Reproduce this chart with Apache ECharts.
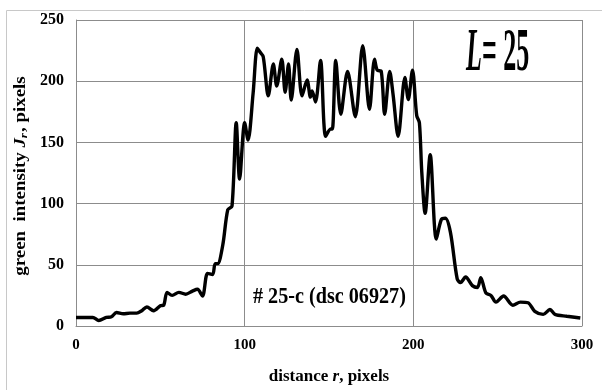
<!DOCTYPE html>
<html>
<head>
<meta charset="utf-8">
<script src="https://cdn.jsdelivr.net/npm/echarts@6/dist/echarts.min.js"></script>
<style>
  html, body { margin: 0; padding: 0; background: #fff; }
  #chart { width: 602px; height: 390px; }
</style>
</head>
<body>
<div id="chart"></div>
<script>
// distance r (pixels) and green intensity J_r
const distance = [0, 4, 8, 10, 13.5, 18, 21, 24, 28, 32, 36, 39, 42, 46, 50, 52, 54, 57, 61, 65, 69, 72, 75,
  78, 81, 82.5, 84, 87, 90, 92.5, 95, 97, 100, 102, 105, 107.5, 109, 111, 114, 117, 119, 122, 124, 126,
  127.6, 131, 134, 137, 139, 140, 142, 145, 148, 151, 152, 154, 157, 161, 165.6, 170, 174, 177, 178.6,
  181, 183, 186, 188, 191, 195, 197, 199.5, 202, 203.6, 205, 207, 210, 213.6, 216.6, 219, 222, 226, 228,
  231, 235, 238, 240, 243, 246, 249, 253.5, 259, 263.5, 268, 272, 277, 281, 284, 291, 299];
const intensity = [7, 7, 7, 7, 4.5, 7, 7.5, 11, 10, 10.5, 10.5, 12.5, 15.5, 12.5, 16.5, 17, 27.5, 25, 27.5, 26, 28.5, 30, 24.5,
  43, 42, 51, 51, 66, 95, 98, 166, 120, 166, 152, 190, 227, 224, 220, 188, 214, 196, 218, 191, 214,
  184.5, 226, 188, 201, 187, 192, 183, 217, 155, 161, 161, 217, 173, 208, 171, 229, 177, 218, 209,
  208, 173, 208, 189, 155, 203, 185, 209, 172, 166, 126, 92, 140, 71, 87, 88, 76.5, 38.5, 35.5,
  40, 33, 31.5, 39.5, 27, 25, 19.5, 24.5, 17, 19.5, 19, 12, 9.5, 13.5, 9.5, 8, 6.5];
const xTicks = { min: 0, max: 300, interval: 100 };
const yTicks = { min: 0, max: 250, interval: 50 };

const chart = echarts.init(document.getElementById('chart'));
const serif = '"Liberation Serif", "DejaVu Serif", serif';
const gridColor = '#8c8c8c';
const bold = { fill: '#000', fontFamily: serif, fontWeight: 'bold' };

chart.setOption({
  animation: false,
  textStyle: { fontFamily: serif },
  grid: { left: 76, right: 20, top: 20, bottom: 53, containLabel: false },
  xAxis: {
    type: 'value',
    min: xTicks.min, max: xTicks.max, interval: xTicks.interval,
    axisLine: { show: true, lineStyle: { color: gridColor, width: 1 } },
    axisTick: { show: false },
    axisLabel: { color: '#000', fontFamily: serif, fontWeight: 'bold', fontSize: 15, margin: 12 },
    splitLine: { show: true, lineStyle: { color: gridColor, width: 1 } },
    name: '{t|distance }{i|r}{t|, pixels}',
    nameLocation: 'middle',
    nameGap: 42,
    nameTextStyle: {
      rich: {
        t: { color: '#000', fontFamily: serif, fontWeight: 'bold', fontSize: 17 },
        i: { color: '#000', fontFamily: serif, fontWeight: 'bold', fontStyle: 'italic', fontSize: 17 }
      }
    }
  },
  yAxis: {
    type: 'value',
    min: yTicks.min, max: yTicks.max, interval: yTicks.interval,
    axisLine: { show: true, lineStyle: { color: gridColor, width: 1 } },
    axisTick: { show: false },
    axisLabel: { color: '#000', fontFamily: serif, fontWeight: 'bold', fontSize: 16, margin: 12 },
    splitLine: { show: true, lineStyle: { color: gridColor, width: 1 } }
  },
  graphic: [
    {
      type: 'rect', silent: true, z: -1,
      shape: { x: 6.5, y: 10.5, width: 600, height: 390 },
      style: { fill: 'none', stroke: '#c8c8c8', lineWidth: 1 }
    },
    {
      // y axis title, rotated and stretched along its length
      type: 'text', x: 21, y: 176, rotation: Math.PI / 2, scaleX: 1.18,
      style: {
        text: '{t|green  intensity }{i|J}{s|r}{t|, pixels}',
        align: 'center', verticalAlign: 'middle',
        rich: {
          t: Object.assign({ fontSize: 16 }, bold),
          i: Object.assign({ fontSize: 16, fontStyle: 'italic' }, bold),
          s: Object.assign({ fontSize: 11, fontStyle: 'italic', padding: [7, 1, 0, 0] }, bold)
        }
      }
    },
    {
      type: 'text', left: 466, top: 23, scaleX: 0.42, originX: 0,
      style: {
        text: '{i|L}{n|= 25}',
        rich: {
          i: Object.assign({ fontSize: 62, fontStyle: 'italic' }, bold),
          n: Object.assign({ fontSize: 62 }, bold)
        }
      }
    },
    {
      type: 'text', left: 253, top: 285, scaleX: 0.84, originX: 0,
      style: Object.assign({ text: '# 25-c (dsc 06927)', fontSize: 24 }, bold)
    }
  ],
  series: [{
    type: 'line',
    data: distance.map((d, i) => [d, intensity[i]]),
    showSymbol: false,
    smooth: 0.3,
    lineStyle: { color: '#000', width: 3.4 },
    itemStyle: { color: '#000' }
  }]
});
</script>
</body>
</html>
